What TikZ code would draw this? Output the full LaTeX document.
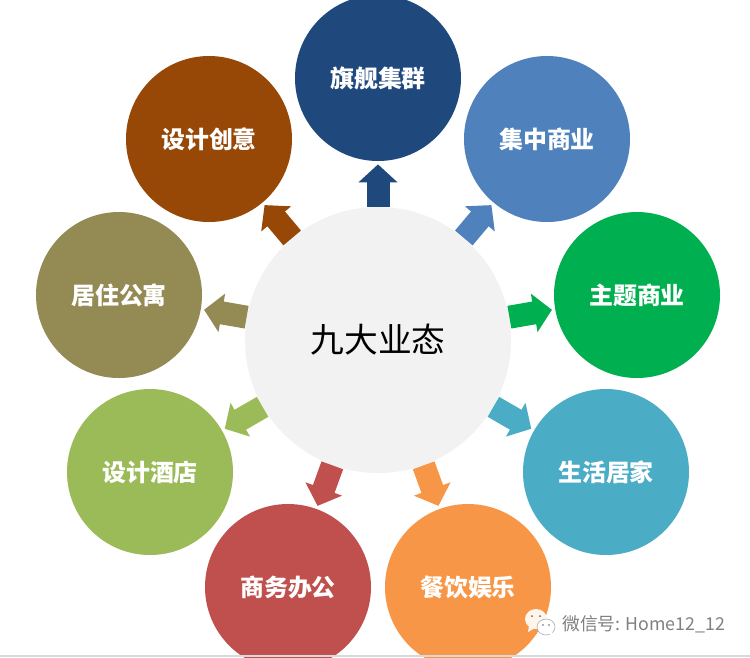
\documentclass[tikz,border=0pt]{standalone}
\usepackage{fontspec}
\setmainfont{Noto Sans CJK SC}
\usepackage{xcolor}
\usepackage{tikz}
\usetikzlibrary{arrows.meta}
\definecolor{navyc}{HTML}{1F497D}
\definecolor{bluec}{HTML}{4F81BD}
\definecolor{greenc}{HTML}{00B050}
\definecolor{tealc}{HTML}{4BACC6}
\definecolor{orangec}{HTML}{F79646}
\definecolor{redc}{HTML}{C0504D}
\definecolor{olivec}{HTML}{9BBB59}
\definecolor{tanc}{HTML}{948A54}
\definecolor{brownc}{HTML}{974806}

\begin{document}
\begin{tikzpicture}[x=0.2mm,y=-0.2mm,
   hubnode/.style={circle,fill=black!5,minimum size=5.32cm,inner sep=0pt,font=\fontsize{19.2pt}{22pt}\selectfont},
   petal/.style={circle,minimum size=3.32cm,inner sep=0pt,text=white,font=\fontsize{13.6pt}{16pt}\selectfont\bfseries},
   flow/.style={line width=0.46cm,-{Triangle[length=0.36cm,width=0.76cm]},shorten >=0.06cm}]
\clip (0,0) rectangle (750,657);
\fill[white] (0,0) rectangle (750,657);
\node[hubnode] (hub) at (378,340) {九大业态};
\node[petal,fill=navyc] (flagship) at (378,78) {旗舰集群};
\node[petal,fill=bluec] (cluster) at (547,139) {集中商业};
\node[petal,fill=greenc] (theme) at (637,295) {主题商业};
\node[petal,fill=tealc] (living) at (606,472) {生活居家};
\node[petal,fill=orangec] (dining) at (468,587) {餐饮娱乐};
\node[petal,fill=redc] (office) at (288,587) {商务办公};
\node[petal,fill=olivec] (hotel) at (150,472) {设计酒店};
\node[petal,fill=tanc] (apartment) at (119,295) {居住公寓};
\node[petal,fill=brownc] (creative) at (209,139) {设计创意};
\draw[flow,navyc] (hub)--(flagship);
\draw[flow,bluec] (hub)--(cluster);
\draw[flow,greenc] (hub)--(theme);
\draw[flow,tealc] (hub)--(living);
\draw[flow,orangec] (hub)--(dining);
\draw[flow,redc] (hub)--(office);
\draw[flow,olivec] (hub)--(hotel);
\draw[flow,tanc] (hub)--(apartment);
\draw[flow,brownc] (hub)--(creative);
% watermark
\fill[white!92!orange] (536,619) ellipse [x radius=11,y radius=10];
\fill[white!92!orange] (529,626)--(528,632)--(535,628)--cycle;
\filldraw[draw=black!35,fill=white,line width=0.3pt] (546,627) ellipse [x radius=9,y radius=8];
\fill[white] (549,633)--(553,637)--(552,631)--cycle;
\fill[black!60] (532,616) circle (1) (540,616) circle (1) (543,625) circle (0.8) (549,625) circle (0.8);
\node[anchor=west,inner sep=0pt,text=black!50,font=\fontsize{10.1pt}{13pt}\selectfont] (mark) at (562,624) {微信号: Home12\_12};
\draw[black!15,line width=0.6pt] (0,656)--(750,656);
\end{tikzpicture}
\end{document}
